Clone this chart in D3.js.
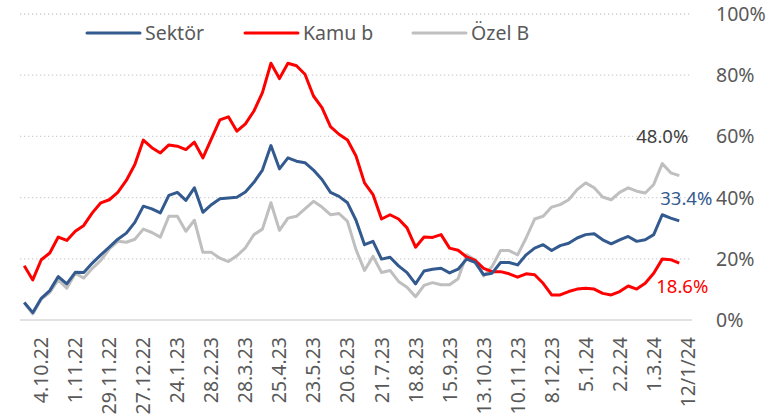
<!DOCTYPE html>
<html>
<head>
<meta charset="utf-8">
<script src="https://cdn.jsdelivr.net/npm/d3@7"></script>
<style>
  body { margin: 0; background: #fff; }
  text { font-family: "Noto Sans", "Open Sans", sans-serif; }
</style>
</head>
<body>
<svg id="container" width="784" height="420"></svg>
<script>
// weekly shares, %
const sektor = [5.7, 2.4, 7.1, 9.6, 14.2, 11.8, 15.6, 15.5, 18.6, 21.3,
  23.8, 26.4, 28.4, 31.9, 37.2, 36.3, 35.0, 40.7, 41.7, 39.1,
  43.2, 35.2, 37.7, 39.6, 39.9, 40.1, 41.8, 45.0, 49.0, 57.0,
  49.4, 53.0, 51.9, 51.4, 49.0, 45.9, 41.7, 40.4, 38.3, 32.6,
  24.6, 25.7, 19.9, 20.5, 17.7, 15.5, 11.8, 16.0, 16.6, 16.9,
  15.4, 16.6, 19.9, 18.8, 14.8, 15.3, 18.8, 18.8, 18.0, 21.3,
  23.5, 24.6, 22.7, 24.3, 25.1, 26.8, 27.9, 28.2, 26.2, 24.9,
  26.2, 27.3, 25.7, 26.2, 27.9, 34.4, 33.3, 32.4];
const kamu = [17.7, 13.1, 19.7, 21.9, 27.1, 26.0, 29.0, 30.9, 35.0, 38.3,
  39.3, 41.7, 45.6, 50.8, 58.8, 56.3, 54.6, 57.2, 56.8, 55.7,
  58.1, 53.0, 59.2, 65.4, 66.4, 61.7, 64.1, 68.3, 74.3, 83.9,
  78.9, 83.9, 83.1, 80.3, 73.2, 69.4, 63.2, 60.7, 58.8, 53.6,
  44.8, 41.0, 33.0, 34.4, 33.0, 30.1, 23.8, 27.1, 27.0, 27.9,
  23.5, 22.8, 20.6, 19.5, 16.9, 15.8, 15.8, 15.1, 14.0, 15.1,
  14.8, 12.0, 8.2, 8.2, 9.3, 10.1, 10.4, 10.1, 8.7, 8.2,
  9.3, 11.1, 10.1, 12.0, 15.3, 19.9, 19.7, 18.6];
const ozel = [5.7, 2.0, 6.8, 9.0, 13.1, 10.4, 15.3, 13.7, 16.9, 19.5,
  23.2, 25.7, 25.4, 26.4, 29.7, 28.6, 27.1, 33.9, 33.9, 29.0,
  32.6, 22.1, 22.1, 20.2, 19.1, 21.0, 23.6, 27.9, 29.7, 38.3,
  29.3, 33.3, 33.9, 36.3, 38.8, 36.9, 34.4, 34.8, 32.2, 23.0,
  16.2, 20.8, 15.5, 16.2, 12.6, 10.7, 7.6, 11.3, 12.2, 11.5,
  11.5, 13.5, 21.3, 19.7, 14.4, 17.5, 22.7, 22.7, 21.3, 26.8,
  33.0, 33.9, 36.9, 37.7, 39.3, 42.6, 44.8, 43.2, 40.2, 39.3,
  41.7, 43.2, 42.1, 41.5, 44.3, 51.1, 48.1, 47.2];

// category labels shown on the axis (every 4th week)
const tickLabels = ["4.10.22", "1.11.22", "29.11.22", "27.12.22", "24.1.23",
  "28.2.23", "28.3.23", "25.4.23", "23.5.23", "20.6.23", "21.7.23",
  "18.8.23", "15.9.23", "13.10.23", "10.11.23", "8.12.23", "5.1.24",
  "2.2.24", "1.3.24", "12/1/24"];
const firstTick = 2;
const tickStep = 4;
const categoryCount = 79;

const yTicks = [0, 20, 40, 60, 80, 100];
const endLabels = ["48.0%", "33.4%", "18.6%"];

const series = [
  { name: "Sektör", values: sektor, color: "#335a8e" },
  { name: "Kamu b", values: kamu, color: "#ff0000" },
  { name: "Özel B", values: ozel, color: "#bfbfbf" }
];

const svg = d3.select("#container");
const plotLeft = 20;
const plotRight = 692;
const plotTop = 14;
const plotBottom = 320;

const x = d3.scaleLinear().domain([-0.5, categoryCount - 0.5]).range([plotLeft, plotRight]);
const y = d3.scaleLinear().domain([0, 100]).range([plotBottom, plotTop]);

// gridlines
svg.append("g")
  .selectAll("line")
  .data(yTicks.filter((t) => t > 0))
  .enter()
  .append("line")
  .attr("x1", plotLeft)
  .attr("x2", plotRight)
  .attr("y1", (t) => y(t))
  .attr("y2", (t) => y(t))
  .attr("stroke", "#d0d0d0")
  .attr("stroke-width", 1.3)
  .attr("stroke-dasharray", "1.3,2.7");

svg.append("line")
  .attr("x1", plotLeft)
  .attr("x2", plotRight)
  .attr("y1", y(0))
  .attr("y2", y(0))
  .attr("stroke", "#d9d9d9")
  .attr("stroke-width", 1.5);

// right-side y labels
svg.append("g")
  .selectAll("text")
  .data(yTicks)
  .enter()
  .append("text")
  .attr("x", 716)
  .attr("y", (t) => y(t))
  .attr("dy", "0.36em")
  .attr("fill", "#595959")
  .attr("font-size", 19.5)
  .text((t) => t + "%");

// x labels, rotated
svg.append("g")
  .selectAll("text")
  .data(tickLabels)
  .enter()
  .append("text")
  .attr("transform", (d, i) => {
    const px = x(firstTick + i * tickStep);
    return `translate(${px + 7},337) rotate(-90)`;
  })
  .attr("text-anchor", "end")
  .attr("fill", "#595959")
  .attr("font-size", 19.5)
  .text((d) => d);

const line = d3.line()
  .x((v, i) => x(i))
  .y((v) => y(v));

svg.append("g")
  .selectAll("path")
  .data(series.slice().reverse())
  .enter()
  .append("path")
  .attr("d", (s) => line(s.values))
  .attr("fill", "none")
  .attr("stroke", (s) => s.color)
  .attr("stroke-width", 3)
  .attr("stroke-linejoin", "round");

// end value labels
const last = sektor.length - 1;
svg.append("text")
  .attr("x", x(last) - 43)
  .attr("y", y(ozel[last]) - 33)
  .attr("fill", "#404040")
  .attr("font-size", 18.5)
  .text(endLabels[0]);
svg.append("text")
  .attr("x", x(last) - 19)
  .attr("y", y(sektor[last]) - 16)
  .attr("fill", series[0].color)
  .attr("font-size", 18.5)
  .text(endLabels[1]);
svg.append("text")
  .attr("x", x(last) - 23)
  .attr("y", y(kamu[last]) + 30)
  .attr("fill", "#ff0000")
  .attr("font-size", 18.5)
  .text(endLabels[2]);

// legend
const legend = svg.append("g")
  .selectAll("g")
  .data(series)
  .enter()
  .append("g")
  .attr("transform", (s, i) => `translate(${[87, 245, 413][i]},33)`);

legend.append("line")
  .attr("x1", 0)
  .attr("x2", 53)
  .attr("stroke", (s) => s.color)
  .attr("stroke-width", 3)
  .attr("stroke-linecap", "round");

legend.append("text")
  .attr("x", 58)
  .attr("dy", "0.36em")
  .attr("fill", "#595959")
  .attr("font-size", 19.5)
  .text((s) => s.name);
</script>
</body>
</html>
